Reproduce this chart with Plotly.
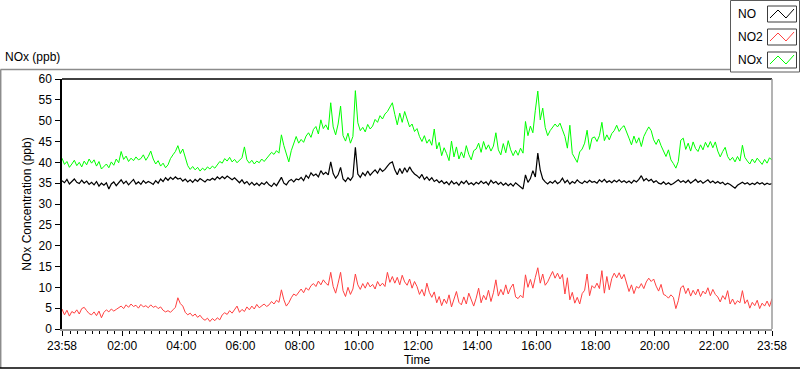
import plotly.graph_objects as go
import pandas as pd

# ---------------- data (5-minute readings, 23:58 -> 23:58 next day) ----------------
start_time = "2023-01-01 23:58"
step_minutes = 5

no_ppb = [
    35.6, 35.1, 35.9, 34.8, 35.4, 36.0, 35.2, 34.9, 35.7, 35.0, 35.5, 34.7,
    35.2, 34.6, 35.4, 34.3, 35.0, 34.5, 35.1, 33.6, 34.8, 35.3, 34.4, 35.0,
    35.8, 34.9, 35.5, 34.6, 35.2, 35.9, 34.8, 35.3, 34.7, 35.6, 35.0, 35.4,
    35.1, 34.7, 35.6, 35.0, 36.0, 35.4, 36.3, 35.7, 36.4, 35.9, 36.5, 36.0,
    36.2, 35.5, 36.0, 35.3, 35.8, 35.2, 35.9, 35.4, 36.1, 35.6, 35.3, 35.9,
    35.7, 36.2, 35.8, 36.5, 36.0, 36.6, 36.1, 36.7, 36.2, 35.8, 36.3, 35.6,
    35.1, 35.8, 34.9, 35.4, 34.6, 35.2, 34.5, 35.0, 34.4, 35.1, 34.7, 35.3,
    34.6, 34.2, 35.0, 34.4, 35.3, 36.4, 35.0, 34.6, 35.5, 35.9, 35.3, 36.0,
    35.8, 36.4, 35.6, 36.9, 36.2, 37.5, 36.8, 37.2, 36.5, 38.0, 37.1, 37.6,
    37.0, 40.1, 37.3, 36.2, 37.0, 38.8, 36.0, 35.4, 36.3, 35.7, 36.6, 43.6,
    37.2, 36.4, 37.5, 36.8, 37.9, 36.9, 37.6, 38.2, 37.4, 38.5, 37.8, 38.3,
    39.1, 39.8, 40.1, 38.2, 37.0, 38.5, 37.3, 38.7, 37.6, 38.9, 37.9, 37.2,
    36.8, 36.2, 37.1, 35.9, 36.5, 35.7, 36.3, 35.4, 35.8, 35.1, 35.6, 34.9,
    35.3, 34.6, 35.5, 34.8, 35.2, 34.5, 35.4, 34.9, 35.6, 34.7, 35.1, 34.6,
    35.2, 34.8, 35.5, 34.9, 35.3, 34.6, 35.7, 35.0, 35.4, 34.7, 35.2, 34.5,
    35.0, 34.4, 34.9, 34.3, 35.1, 34.6, 34.2, 33.6, 37.0, 35.2, 36.1, 38.0,
    36.5, 42.2, 38.1, 36.0, 35.3, 34.8, 35.4, 35.0, 35.6, 34.9, 35.3, 36.2,
    35.1, 35.7, 34.8, 35.4, 35.0, 35.8, 35.2, 34.9, 35.5, 35.1, 35.7, 35.2,
    35.4, 35.0, 35.8, 35.3, 35.9, 35.2, 35.6, 35.1, 35.7, 35.3, 35.8, 35.2,
    35.6, 35.1, 35.5, 35.0, 35.7, 35.3, 35.9, 36.8, 35.6, 36.1, 35.5, 35.9,
    35.2, 35.6, 35.0, 34.8, 35.3, 34.7, 35.1, 34.6, 34.9, 35.4, 35.8, 35.2,
    35.6, 35.1, 35.7, 35.0, 35.5, 35.9, 35.2, 35.6, 35.0, 35.4, 35.8, 35.1,
    35.5, 35.0, 35.4, 34.9, 35.2, 34.6, 35.0, 34.7, 34.2, 33.8, 34.5, 34.9,
    35.2, 34.8, 35.1, 34.6, 35.0, 34.7, 35.2, 34.8, 35.1, 34.6, 35.0, 34.7, 34.9,
]

no2_ppb = [
    4.8, 3.4, 4.5, 3.1, 4.2, 3.8, 4.6, 3.6, 4.9, 5.2, 4.4, 3.7,
    3.4, 4.1, 3.2, 4.3, 2.7, 4.0, 4.6, 4.1, 4.8, 4.3, 4.7, 5.2,
    5.5, 4.9, 5.8, 5.2, 6.0, 5.4, 5.7, 5.0, 5.9, 5.3, 5.6, 5.1,
    5.8, 5.2, 5.5, 4.9, 5.3, 4.5, 4.1, 4.4, 4.0, 4.6, 5.2, 7.5,
    6.1, 5.5, 4.0, 3.4, 3.8, 3.1, 3.6, 2.8, 3.3, 2.5, 2.1, 2.6,
    1.8, 2.5, 2.0, 2.7, 2.2, 3.4, 3.9, 3.5, 4.4, 3.8, 4.6, 5.5,
    4.0, 4.7, 4.2, 5.3, 4.6, 5.5, 4.8, 5.9, 5.1, 5.6, 6.0, 5.4,
    5.8, 6.6, 6.0, 6.9, 6.4, 9.4, 7.0, 5.5, 6.3, 7.5, 8.4, 8.0,
    8.9, 9.6, 8.7, 9.9, 9.3, 10.4, 10.9, 10.2, 11.5, 10.6, 11.8, 11.0,
    10.5, 13.6, 10.2, 8.6, 11.0, 13.6, 9.2, 7.8, 10.0, 8.3, 9.6, 13.2,
    10.6, 9.5, 10.9, 9.8, 11.2, 10.1, 10.7, 9.6, 11.4, 10.3, 11.0, 10.2,
    13.6, 11.2, 12.6, 11.0, 12.4, 10.6, 12.9, 11.3, 10.5, 12.0, 9.8, 11.4,
    10.2, 8.3, 9.5, 7.9, 11.0, 8.8, 7.6, 8.9, 6.3, 7.8, 5.6, 7.2,
    6.1, 8.2, 5.3, 7.5, 9.0, 6.4, 5.8, 7.7, 6.0, 8.6, 6.8, 5.5,
    7.4, 9.8, 6.3, 8.1, 7.0, 9.3, 6.6, 8.7, 11.8, 7.9, 9.5, 8.2,
    10.6, 8.4, 9.9, 10.8, 7.7, 7.3, 8.1, 7.5, 13.0, 10.0, 11.9, 9.8,
    12.4, 14.7, 11.0, 13.2, 10.5, 11.3, 12.6, 13.8, 12.2, 13.4, 12.0, 13.1,
    8.4, 12.3, 7.0, 8.8, 6.2, 7.6, 6.0, 8.5, 9.3, 13.2, 8.0, 10.4,
    9.8, 11.0, 9.7, 14.0, 8.6, 12.6, 9.4, 12.1, 13.4, 12.3, 13.5, 12.0,
    13.1, 11.0, 9.0, 10.6, 8.5, 10.2, 9.8, 10.9, 9.7, 11.3, 12.2, 11.4,
    12.0, 10.3, 9.1, 10.7, 8.3, 8.0, 7.4, 8.2, 7.6, 4.9, 6.8, 9.9,
    10.4, 8.5, 9.8, 7.9, 9.3, 8.2, 9.6, 7.8, 9.1, 8.4, 9.9, 8.0,
    9.5, 8.3, 7.7, 6.5, 8.0, 7.1, 9.2, 6.0, 7.2, 5.9, 6.8, 6.3,
    9.2, 6.1, 7.0, 5.0, 6.4, 5.6, 6.9, 4.9, 6.2, 5.5, 6.7, 5.4, 7.3,
]

nox_ppb = [
    41.0, 39.5, 40.2, 38.8, 39.6, 40.5, 39.2, 40.0, 38.9, 40.3, 39.4, 40.8,
    39.8, 40.6, 39.1, 40.2, 38.4, 38.9, 39.6, 38.7, 40.1, 39.3, 40.8, 39.9,
    42.6, 40.7, 41.5, 40.2, 41.0, 40.4, 41.3, 40.6, 40.9, 41.8, 40.5, 41.4,
    42.7, 40.8, 39.6, 40.4, 39.1, 39.8, 38.7, 39.4, 40.9, 41.8, 42.6, 44.0,
    42.1, 43.2, 41.0, 39.2, 38.3, 39.0, 38.2, 38.8, 37.9, 38.6, 38.1, 38.9,
    38.4, 39.1, 38.6, 39.5, 40.2, 39.8, 40.9, 40.3, 41.2, 40.1, 40.7, 39.9,
    40.4, 41.1, 43.7, 40.6, 39.8, 40.5, 39.6, 40.3, 39.9, 40.8, 40.2, 40.9,
    41.6, 42.4, 41.9, 42.8, 42.2, 46.6, 44.0, 42.3, 40.1, 42.8, 44.5, 46.2,
    44.6, 45.5, 44.8, 46.3, 47.1, 46.0, 47.9, 48.6, 46.8, 50.2, 48.1, 49.0,
    47.8, 54.3, 48.5, 46.6, 49.2, 53.5, 46.4, 45.1, 47.0, 44.6, 46.2, 57.2,
    49.5, 47.6, 48.4, 47.3, 49.1, 48.0, 48.7, 50.3, 49.6, 51.2, 50.4, 51.6,
    52.2, 53.1, 54.3, 51.5, 49.0, 51.8, 49.6, 52.2, 50.3, 48.5, 49.2, 47.4,
    48.1, 46.2, 45.0, 46.4, 44.6, 45.5, 44.1, 48.0, 43.2, 44.8, 41.6, 43.5,
    42.1, 40.4, 45.1, 41.3, 43.7, 40.8, 42.5, 41.1, 44.0, 41.9, 40.6, 42.8,
    43.2, 44.6, 42.4, 45.0, 43.1, 44.2, 42.7, 43.9, 47.1, 43.0, 41.8, 44.5,
    42.3, 45.2, 43.0, 41.6, 42.9, 41.7, 43.4, 42.2, 49.8, 46.4, 48.7, 47.1,
    52.5, 57.1, 50.2, 53.0, 48.4, 46.4, 47.6, 48.3, 49.2, 48.5, 49.4, 47.8,
    46.2, 43.4, 48.9, 42.1, 41.2, 40.0, 42.5, 43.2, 44.6, 47.7, 43.1, 45.8,
    46.1, 45.0, 46.4, 49.6, 45.2, 46.6, 45.4, 46.9, 47.6, 48.9, 47.4, 48.3,
    48.8, 47.5, 45.8, 44.2, 46.3, 44.6, 45.9, 43.8, 46.2, 47.4, 48.5, 47.6,
    45.4, 44.3, 45.6, 44.0, 42.8, 41.4, 43.0, 40.6, 39.7, 38.6, 40.2, 45.3,
    45.8, 43.1, 44.6, 42.7, 44.9, 43.3, 42.6, 44.2, 43.0, 44.8, 43.6, 45.0,
    43.5, 44.9, 42.7, 41.3, 42.6, 43.6, 41.4, 40.5, 41.2, 40.1, 41.4, 40.3,
    44.1, 41.2, 40.3, 39.6, 40.8, 39.9, 41.0, 40.2, 39.5, 40.7, 39.8, 41.1, 40.5,
]

series_names = ["NO", "NO2", "NOx"]
series_colors = ["#000000", "#FF4040", "#00FF00"]

x_tick_labels = ["23:58", "02:00", "04:00", "06:00", "08:00", "10:00", "12:00",
                 "14:00", "16:00", "18:00", "20:00", "22:00", "23:58"]
y_tick_values = [0, 5, 10, 15, 20, 25, 30, 35, 40, 45, 50, 55, 60]

# ---------------- build ----------------
times = pd.date_range(start=start_time, periods=len(no_ppb), freq=f"{step_minutes}min")
t0, t1 = times[0], times[-1]
major_ticks = [t0] + list(pd.date_range("2023-01-02 02:00", "2023-01-02 22:00", freq="2h")) + [t1]
minor_ticks = list(pd.date_range("2023-01-02 00:00", "2023-01-02 23:45", freq="15min"))

W, H = 800, 369
L, R, T, B = 62, 772, 79, 329  # plot area in pixels


def px(xp):
    return (xp - L) / (R - L)


def py(yp):
    return (B - yp) / (B - T)


font = "Liberation Sans, Arial, sans-serif"
fig = go.Figure()
for name, vals, col, wd in zip(["NOx", "NO", "NO2"], [nox_ppb, no_ppb, no2_ppb],
                               [series_colors[2], series_colors[0], series_colors[1]],
                               [1, 1.2, 1]):
    fig.add_trace(go.Scatter(x=times, y=vals, mode="lines", name=name,
                             line=dict(color=col, width=wd), showlegend=False))

shapes = []
# plot-area border: top/left black, right/bottom grey
shapes.append(dict(type="line", xref="paper", yref="paper", x0=0, x1=1, y0=1, y1=1,
                   line=dict(color="#000000", width=1.5)))
shapes.append(dict(type="line", xref="paper", yref="paper", x0=1, x1=1, y0=0, y1=1,
                   line=dict(color="#9a9a9a", width=1.5)))
# outer frame
shapes.append(dict(type="line", xref="paper", yref="paper", x0=px(0.5), x1=px(731), y0=py(69.5), y1=py(69.5),
                   line=dict(color="#8c8c8c", width=1.5)))
shapes.append(dict(type="line", xref="paper", yref="paper", x0=px(0.7), x1=px(0.7), y0=py(69.5), y1=py(368),
                   line=dict(color="#8c8c8c", width=1.5)))
shapes.append(dict(type="line", xref="paper", yref="paper", x0=px(0), x1=px(800), y0=py(368), y1=py(368),
                   line=dict(color="#000000", width=1.5)))
# legend box
shapes.append(dict(type="rect", xref="paper", yref="paper", x0=px(730.5), x1=px(799.5), y0=py(72), y1=py(0.5),
                   line=dict(color="#5a5a5a", width=1), fillcolor="#ffffff"))
annotations = []
row_centers = [14, 37, 60]
for name, col, cy in zip(series_names, series_colors, row_centers):
    shapes.append(dict(type="rect", xref="paper", yref="paper", x0=px(767.5), x1=px(796.5),
                       y0=py(cy + 8), y1=py(cy - 8), line=dict(color="#3c3c3c", width=1),
                       fillcolor="#ffffff"))
    pts = [(770, cy + 4), (778, cy - 4), (786, cy + 4), (794, cy - 5)]
    path = "M " + " L ".join(f"{px(a):.5f},{py(b):.5f}" for a, b in pts)
    shapes.append(dict(type="path", xref="paper", yref="paper", path=path,
                       line=dict(color=col, width=1)))
    annotations.append(dict(text=name, xref="paper", yref="paper", x=px(736), y=py(cy),
                            xanchor="left", yanchor="middle", showarrow=False,
                            font=dict(family=font, size=12, color="#000000")))

annotations.append(dict(text="NOx (ppb)", xref="paper", yref="paper", x=px(3), y=py(57),
                        xanchor="left", yanchor="middle", showarrow=False,
                        font=dict(family=font, size=12, color="#000000")))

fig.update_layout(
    width=W, height=H,
    margin=dict(l=L, r=W - R, t=T, b=H - B, pad=0, autoexpand=False),
    paper_bgcolor="#ffffff", plot_bgcolor="#ffffff",
    font=dict(family=font, size=11, color="#000000"),
    shapes=shapes, annotations=annotations,
    xaxis=dict(type="date", range=[t0, t1], tickmode="array", tickvals=major_ticks,
               ticktext=x_tick_labels, ticks="outside", ticklen=5, tickcolor="#000000",
               showgrid=False, zeroline=False, showline=True, linecolor="#9a9a9a", linewidth=1.5,
               tickfont=dict(family=font, size=12, color="#000000"), ticklabelstandoff=0,
               automargin=False,
               minor=dict(tickmode="array", tickvals=minor_ticks, ticks="outside", ticklen=3,
                          tickcolor="#000000", showgrid=False),
               title=dict(text="Time", font=dict(family=font, size=12, color="#000000"), standoff=2)),
    yaxis=dict(range=[0, 60], tickmode="array", tickvals=y_tick_values, ticks="outside",
               ticklen=5, tickcolor="#000000", showgrid=False, zeroline=False,
               showline=True, linecolor="#000000", linewidth=1.5, automargin=False,
               tickfont=dict(family=font, size=12, color="#000000"), ticklabelstandoff=1,
               title=dict(text="NOx Concentration (ppb)", font=dict(family=font, size=12, color="#000000"),
                          standoff=4)),
)

fig.write_html("out.html", config={"displayModeBar": False},
               post_script="document.body.style.margin='0';document.body.style.overflow='hidden';")
